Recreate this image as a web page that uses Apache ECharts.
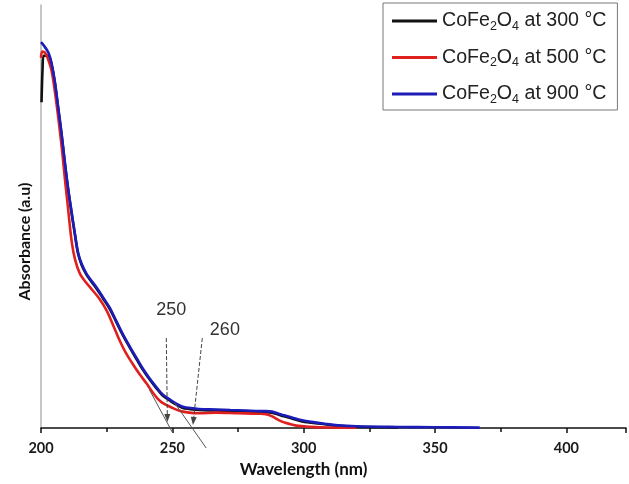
<!DOCTYPE html>
<html>
<head>
<meta charset="utf-8">
<script src="https://cdn.jsdelivr.net/npm/echarts@6/dist/echarts.min.js"></script>
<style>
html,body{margin:0;padding:0;background:#fff;}
#chart{width:629px;height:484px;}
</style>
</head>
<body>
<div id="chart"></div>
<script>
// 数据
var names = ['CoFe2O4 at 300 °C', 'CoFe2O4 at 500 °C', 'CoFe2O4 at 900 °C'];
var colors = ['#111111', '#e01f1f', '#1c1cb8'];

var wl300 = [200.2, 200.6, 201, 202.8, 204, 205.3, 206.5, 207.8, 209, 210.3, 211.6, 212.9, 214.1, 215.5, 217.3, 219, 221.1, 223.5, 226.1, 228.5, 231.1, 233.8, 236.4, 238.8, 241.3, 243.8, 246.2, 249, 251.5, 254, 256.4, 260, 266.7, 272, 278, 283, 285.6, 287.9, 290, 292.5, 295.5, 299, 303, 308, 313, 320, 336];
var abs300 = [3.08, 3.40, 3.52, 3.52, 3.44, 3.26, 3.03, 2.78, 2.52, 2.26, 2.04, 1.83, 1.65, 1.54, 1.45, 1.39, 1.32, 1.23, 1.13, 1.01, 0.88, 0.76, 0.65, 0.55, 0.46, 0.38, 0.31, 0.26, 0.22, 0.19, 0.18, 0.17, 0.165, 0.16, 0.155, 0.15, 0.15, 0.145, 0.13, 0.11, 0.09, 0.065, 0.05, 0.035, 0.02, 0.012, 0.006];

var wl500 = [200, 200.5, 201.5, 202.5, 204, 205.3, 206.6, 208, 209, 210.2, 211.7, 213, 214.8, 217, 219.7, 222.3, 225, 227.5, 229.9, 232.3, 234.8, 237.5, 240.2, 242.7, 245.1, 247.5, 250, 253, 256.4, 260, 266.7, 275, 283, 285.6, 288, 290.5, 293, 296, 298, 302, 306, 312, 320];
var abs500 = [3.50, 3.56, 3.55, 3.50, 3.38, 3.18, 2.93, 2.63, 2.38, 2.10, 1.76, 1.59, 1.46, 1.38, 1.30, 1.22, 1.11, 0.97, 0.83, 0.71, 0.61, 0.51, 0.42, 0.33, 0.26, 0.22, 0.19, 0.16, 0.145, 0.14, 0.145, 0.14, 0.135, 0.13, 0.11, 0.075, 0.05, 0.03, 0.02, 0.012, 0.006, 0.004, 0.002];

var wl900 = [200, 201, 202.8, 204, 205.3, 206.5, 207.8, 209, 210.3, 211.6, 212.9, 214.1, 215.5, 217.3, 219, 221.1, 223.5, 226.1, 228.5, 231.1, 233.8, 236.4, 238.8, 241.3, 243.8, 246.2, 249, 251.5, 254, 256.4, 260, 266.7, 272, 278, 283, 285.6, 287.9, 290, 292.5, 295.5, 299, 303, 308, 313, 320, 336, 350, 367];
var abs900 = [3.65, 3.62, 3.55, 3.45, 3.27, 3.04, 2.79, 2.53, 2.27, 2.05, 1.84, 1.66, 1.55, 1.46, 1.40, 1.33, 1.24, 1.14, 1.02, 0.89, 0.77, 0.66, 0.56, 0.47, 0.39, 0.32, 0.27, 0.23, 0.20, 0.19, 0.18, 0.175, 0.17, 0.165, 0.16, 0.16, 0.155, 0.14, 0.12, 0.10, 0.075, 0.058, 0.04, 0.025, 0.016, 0.01, 0.007, 0.004];

var xTicks = [200, 250, 300, 350, 400];

// 注释: 切线, 箭头, 文字 (数据坐标)
var tangentA = [[241.3, 0.36], [250, -0.04]];
var tangentB = [[250.8, 0.24], [262.9, -0.19]];
var arrowA = [[247.7, 0.85], [248.1, 0.095]];
var arrowB = [[261.4, 0.85], [258, 0.066]];
var noteText = ['250', '260'];
var notePos = [[249.6, 1.12], [270, 0.93]];

function pairs(xs, ys) {
    var out = [];
    for (var i = 0; i < xs.length; i++) out.push([xs[i], ys[i]]);
    return out;
}

var chart = echarts.init(document.getElementById('chart'));

var dataSets = [pairs(wl300, abs300), pairs(wl500, abs500), pairs(wl900, abs900)];
var series = [];
for (var i = 0; i < names.length; i++) {
    series.push({
        name: names[i],
        type: 'line',
        data: dataSets[i],
        showSymbol: false,
        smooth: 0.35,
        color: colors[i],
        lineStyle: {width: 2.6, color: colors[i]},
        z: 3 + i
    });
}
series.push({
    name: 'tA',
    type: 'line',
    data: tangentA,
    showSymbol: false,
    clip: false,
    silent: true,
    lineStyle: {width: 1, color: '#555'},
    z: 10,
    markLine: {
        silent: true,
        symbol: ['none', 'triangle'],
        symbolSize: [6, 8],
        label: {show: false},
        lineStyle: {type: [4, 2], color: '#444', width: 1},
        data: [
            [{coord: arrowA[0]}, {coord: arrowA[1]}],
            [{coord: arrowB[0]}, {coord: arrowB[1]}]
        ]
    },
    markPoint: {
        silent: true,
        symbol: 'rect',
        symbolSize: 0,
        label: {
            show: true,
            position: 'inside',
            formatter: '{b}',
            fontFamily: 'Liberation Sans',
            fontSize: 18,
            color: '#333'
        },
        data: [
            {name: noteText[0], coord: notePos[0]},
            {name: noteText[1], coord: notePos[1]}
        ]
    }
});
series.push({
    name: 'tB',
    type: 'line',
    data: tangentB,
    showSymbol: false,
    clip: false,
    silent: true,
    lineStyle: {width: 1, color: '#555'},
    z: 10
});

var option = {
    animation: false,
    backgroundColor: '#fff',
    grid: {left: 41, right: 0, top: 5, bottom: 56},
    legend: {
        data: names,
        orient: 'vertical',
        left: 383,
        top: 3,
        padding: [5, 11, 4, 9],
        itemGap: 11.5,
        itemWidth: 45,
        itemHeight: 3,
        icon: 'rect',
        borderColor: '#777',
        borderWidth: 1,
        selectedMode: false,
        formatter: function (name) {
            var t = name.split(' at ');
            return '{n|CoFe}{s|2}{n|O}{s|4}{n| at ' + t[1] + '}';
        },
        textStyle: {
            rich: {
                n: {fontFamily: 'Liberation Sans', fontSize: 19.6, color: '#222', lineHeight: 24},
                s: {fontFamily: 'Liberation Sans', fontSize: 12.5, color: '#222', lineHeight: 24, verticalAlign: 'bottom', padding: [12, 0, 0, 0]}
            }
        }
    },
    xAxis: {
        type: 'value',
        min: 200,
        max: 422.7,
        interval: 50,
        name: 'Wavelength (nm)',
        nameLocation: 'middle',
        nameGap: 29,
        nameTextStyle: {fontFamily: 'Lato', fontWeight: 'bold', fontSize: 17, color: '#111', padding: [0, 60, 0, 0]},
        axisLine: {lineStyle: {color: '#111', width: 1.5}},
        axisTick: {show: true, length: 5, lineStyle: {color: '#111', width: 1.5}},
        minorTick: {show: true, splitNumber: 2, length: 4, lineStyle: {color: '#111', width: 1.5}},
        axisLabel: {
            margin: 13,
            fontFamily: 'Lato', fontWeight: 'bold', fontSize: 14.5, color: '#1a1a1a',
            formatter: function (v) { return xTicks.indexOf(v) >= 0 ? String(v) : ''; }
        },
        splitLine: {show: false}
    },
    yAxis: {
        type: 'value',
        min: 0,
        max: 4,
        name: 'Absorbance (a.u)',
        nameLocation: 'middle',
        nameGap: 8,
        nameTextStyle: {fontFamily: 'Lato', fontWeight: 'bold', fontSize: 16, color: '#111', padding: [0, 50, 0, 0]},
        axisLine: {show: true, lineStyle: {color: '#b4b4b4', width: 1.5}},
        axisTick: {show: false},
        axisLabel: {show: false},
        splitLine: {show: false}
    },
    series: series
};
chart.setOption(option);
</script>
</body>
</html>
